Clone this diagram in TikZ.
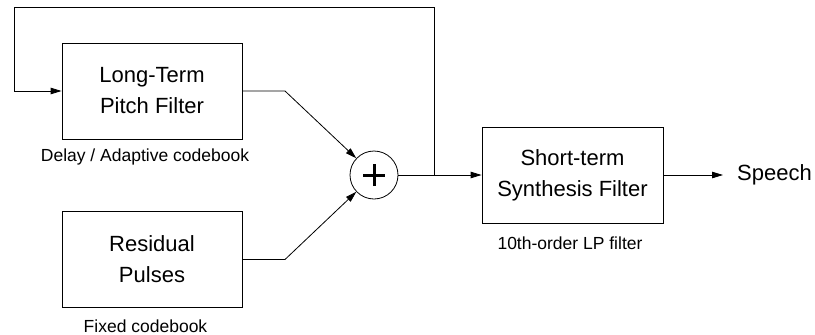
\documentclass[tikz,border=0pt]{standalone}
\usepackage{fontspec}
\setmainfont{Liberation Sans}
\usetikzlibrary{arrows.meta}
\begin{document}
\begin{tikzpicture}[x=1pt,y=-1pt,
  blk/.style={draw,line width=0.8pt,minimum width=180pt,minimum height=96pt,inner sep=0pt,align=center,font=\fontsize{22}{31}\selectfont},
  lbl/.style={inner sep=0pt,font=\fontsize{17.5}{20}\selectfont},
  wire/.style={line width=0.8pt},
  arr/.style={wire,-{Triangle[length=11pt,width=6.5pt]}}]
\useasboundingbox (0,0) rectangle (815,335);
\node[blk] (ltp) at (152,91) {Long-Term\\Pitch Filter};
\node[blk] (res) at (152,259.5) {Residual\\Pulses};
\node[blk,minimum width=181pt] (stf) at (572.5,175) {Short-term\\Synthesis Filter};
\node[draw,line width=0.8pt,circle,minimum size=48pt,inner sep=0pt] (sum) at (374,175) {};
\draw[line width=3pt] ([xshift=-11pt]sum.center) -- ([xshift=11pt]sum.center);
\draw[line width=3pt] ([yshift=-11pt]sum.center) -- ([yshift=11pt]sum.center);
\node[lbl] (l1) at (145,157) {Delay / Adaptive codebook};
\node[lbl] (l2) at (145.5,326) {Fixed codebook};
\node[lbl] (l3) at (570,243) {10th-order LP filter};
\node[inner sep=0pt,anchor=west,font=\fontsize{22}{26}\selectfont] (sp) at (737,175) {Speech};
\coordinate (k1) at (285,91);
\coordinate (k2) at (285,259.5);
\coordinate (tap) at (434,175);
\coordinate (tr) at (434,7);
\coordinate (tl) at (14,7);
\coordinate (bl) at (14,91);
\coordinate (out) at (723,175);
\draw[arr] (ltp.east) -- (k1) -- (sum);
\draw[arr] (res.east) -- (k2) -- (sum);
\draw[arr] (sum.east) -- (stf.west);
\draw[arr] (tap) -- (tr) -- (tl) -- (bl) -- (ltp.west);
\draw[arr] (stf.east) -- (out);
\end{tikzpicture}
\end{document}
